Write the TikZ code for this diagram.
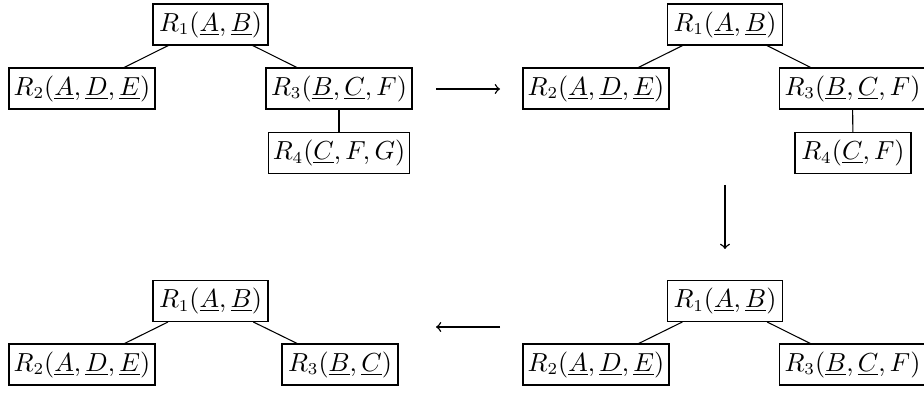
\documentclass[tikz,border=0pt]{standalone}
\usetikzlibrary{positioning}
\begin{document}
\begin{tikzpicture}[x=0.42pt,y=-0.42pt,
  rel/.style={draw,line width=0.45pt,inner sep=0pt,minimum height=17.2pt,font=\fontsize{10.6}{13}\selectfont},
  wA/.style={minimum width=48.3pt},
  wB/.style={minimum width=61.3pt},
  wC/.style={minimum width=59.6pt},
  wD/.style={minimum width=48.7pt},
  edge/.style={line width=0.45pt},
  flow/.style={line width=0.6pt,-to}]
\useasboundingbox (0,0) rectangle (924,393);
% tree 1 (top left)
\node[rel,wA] (a1) at (210.5,24.5) {$R_1(\underline{A},\underline{B})$};
\node[rel,wB] (a2) at (82,88.5) {$R_2(\underline{A},\underline{D},\underline{E})$};
\node[rel,wB] (a3) at (339,88.5) {$R_3(\underline{B},\underline{C},F)$};
\node[rel,wC] (a4) at (339,153) {$R_4(\underline{C},F,G)$};
\draw[edge] (a1) -- (a2);
\draw[edge] (a1) -- (a3);
\draw[edge] (a3) -- (a4);
% tree 2 (top right)
\node[rel,wA] (b1) at (725,24.5) {$R_1(\underline{A},\underline{B})$};
\node[rel,wB] (b2) at (596,88.5) {$R_2(\underline{A},\underline{D},\underline{E})$};
\node[rel,wB] (b3) at (852.5,88.5) {$R_3(\underline{B},\underline{C},F)$};
\node[rel,wD] (b4) at (853,153) {$R_4(\underline{C},F)$};
\draw[edge] (b1) -- (b2);
\draw[edge] (b1) -- (b3);
\draw[edge] (b3) -- (b4);
% tree 3 (bottom right)
\node[rel,wA] (c1) at (725,301) {$R_1(\underline{A},\underline{B})$};
\node[rel,wB] (c2) at (596,364.5) {$R_2(\underline{A},\underline{D},\underline{E})$};
\node[rel,wB] (c3) at (852.5,364.5) {$R_3(\underline{B},\underline{C},F)$};
\draw[edge] (c1) -- (c2);
\draw[edge] (c1) -- (c3);
% tree 4 (bottom left)
\node[rel,wA] (d1) at (210.5,301) {$R_1(\underline{A},\underline{B})$};
\node[rel,wB] (d2) at (82,364.5) {$R_2(\underline{A},\underline{D},\underline{E})$};
\node[rel,wD] (d3) at (340,364.5) {$R_3(\underline{B},\underline{C})$};
\draw[edge] (d1) -- (d2);
\draw[edge] (d1) -- (d3);
% transformation arrows
\coordinate (t1s) at (436,89);
\coordinate (t1e) at (500,89);
\coordinate (t2s) at (725,185);
\coordinate (t2e) at (725,249);
\coordinate (t3s) at (500,327);
\coordinate (t3e) at (436,327);
\draw[flow] (t1s) -- (t1e);
\draw[flow] (t2s) -- (t2e);
\draw[flow] (t3s) -- (t3e);
\end{tikzpicture}
\end{document}
